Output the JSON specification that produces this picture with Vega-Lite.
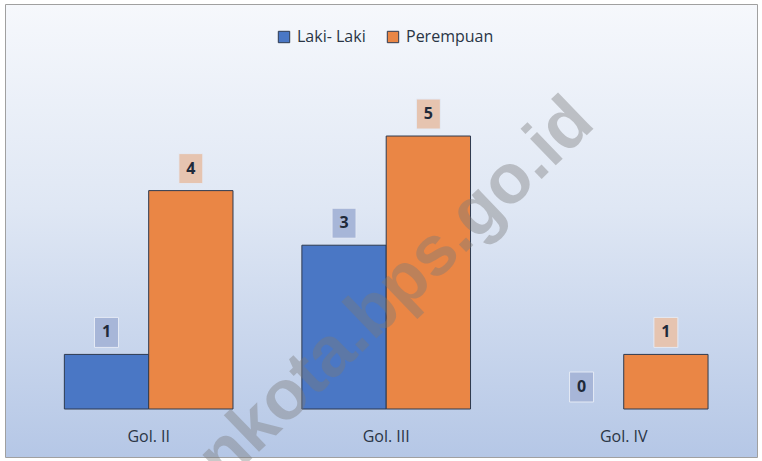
{
  "$schema": "https://vega.github.io/schema/vega-lite/v6.json",
  "autosize": "none",
  "width": 752,
  "height": 453,
  "padding": {"left": 5, "top": 4, "right": 5, "bottom": 4},
  "background": "white",
  "config": {
    "font": "Open Sans",
    "view": {
      "stroke": "#a0a0a0",
      "strokeWidth": 1,
      "fill": {"gradient": "linear", "x1": 0, "y1": 0, "x2": 0, "y2": 1, "stops": [{"offset": 0, "color": "#f6f8fc"}, {"offset": 0.45, "color": "#dfe7f4"}, {"offset": 1, "color": "#b5c7e6"}]}
    },
    "axis": {"labelFont": "Open Sans", "labelColor": "#2a3545", "labelFontSize": 16}
  },
  "data": {"values": [
    {"gol": "Gol. II", "jk": "Laki- Laki", "value": 1},
    {"gol": "Gol. II", "jk": "Perempuan", "value": 4},
    {"gol": "Gol. III", "jk": "Laki- Laki", "value": 3},
    {"gol": "Gol. III", "jk": "Perempuan", "value": 5},
    {"gol": "Gol. IV", "jk": "Laki- Laki", "value": 0},
    {"gol": "Gol. IV", "jk": "Perempuan", "value": 1}
  ]},
  "layer": [
    {
      "mark": {"type": "bar", "stroke": "#2e3a50", "strokeWidth": 1},
      "encoding": {
        "x": {"field": "gol", "type": "nominal", "sort": ["Gol. II", "Gol. III", "Gol. IV"],
          "scale": {"paddingInner": 0.29, "paddingOuter": 0.228, "align": 0.548},
          "axis": {"title": null, "orient": "bottom", "offset": -31, "labelPadding": 2, "ticks": false, "domain": false, "labelAngle": 0, "labelBaseline": "top"}},
        "xOffset": {"field": "jk", "type": "nominal", "scale": {"paddingInner": 0, "paddingOuter": 0}},
        "y": {"field": "value", "type": "quantitative", "scale": {"domain": [-0.879, 7.418], "nice": false, "zero": false}, "axis": null},
        "color": {"field": "jk", "type": "nominal", "scale": {"domain": ["Laki- Laki", "Perempuan"], "range": ["#4a77c5", "#ea8645"]},
          "legend": {"title": null, "orient": "none", "legendX": 271, "legendY": 25, "direction": "horizontal", "padding": 0, "symbolType": "square", "symbolSize": 130, "symbolStrokeColor": "#2e3a50", "symbolStrokeWidth": 1, "labelFontSize": 16, "labelFont": "Open Sans", "labelColor": "#2a3545", "labelOffset": 5, "columnPadding": 19}},
        "strokeOpacity": {"condition": {"test": "datum.value == 0", "value": 0}, "value": 1}
      }
    },
    {
      "mark": {"type": "point", "shape": "M-0.8,-1H0.8V1H-0.8Z", "size": 900, "filled": true, "opacity": 1, "yOffset": -22, "stroke": "#e4eaf5", "strokeWidth": 1},
      "encoding": {
        "x": {"field": "gol", "type": "nominal", "sort": ["Gol. II", "Gol. III", "Gol. IV"]},
        "xOffset": {"field": "jk", "type": "nominal"},
        "y": {"field": "value", "type": "quantitative"},
        "fill": {"condition": {"test": "datum.jk == 'Perempuan'", "value": "#e6c4b0"}, "value": "#a7b6d8"}
      }
    },
    {
      "mark": {"type": "text", "fontSize": 16, "fontWeight": "bold", "font": "Open Sans", "color": "#1f2a3a", "yOffset": -22, "baseline": "middle"},
      "encoding": {
        "x": {"field": "gol", "type": "nominal", "sort": ["Gol. II", "Gol. III", "Gol. IV"]},
        "xOffset": {"field": "jk", "type": "nominal"},
        "y": {"field": "value", "type": "quantitative"},
        "text": {"field": "value", "type": "quantitative"}
      }
    },
    {
      "data": {"values": [{"t": "nkota.bps.go.id"}]},
      "mark": {"type": "text", "font": "Liberation Sans", "fontWeight": "bold", "fontSize": 70, "angle": -44, "color": "#7a7a7a", "opacity": 0.4, "align": "center", "baseline": "middle", "dx": 14},
      "encoding": {
        "x": {"datum": "Gol. III"},
        "y": {"datum": 2.0},
        "text": {"field": "t"}
      }
    }
  ]
}
